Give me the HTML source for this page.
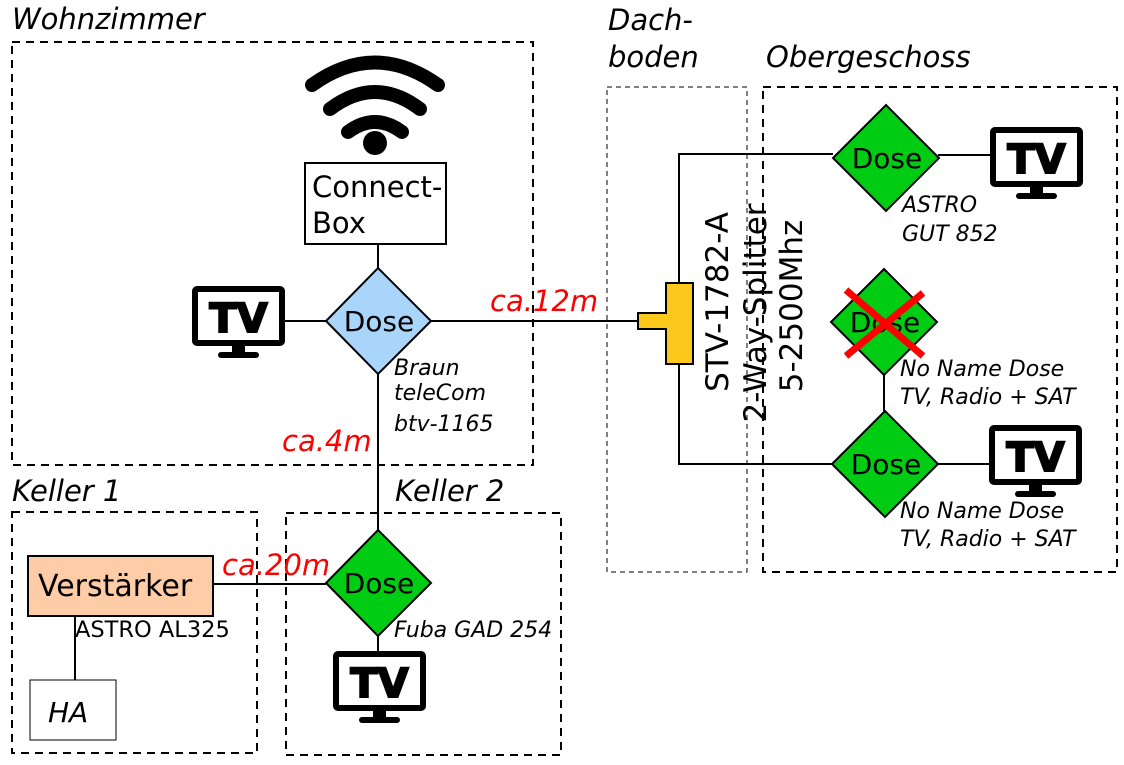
<!DOCTYPE html>
<html><head><meta charset="utf-8"><style>
html,body{margin:0;padding:0;background:#fff}
svg{display:block}
text{font-family:"DejaVu Sans","Liberation Sans",sans-serif}
</style></head><body>
<svg width="1124" height="765" viewBox="0 0 1124 765" xmlns="http://www.w3.org/2000/svg">
<defs>
<g id="tv">
<rect x="3" y="3" width="87" height="54" fill="#fff" stroke="#000" stroke-width="6" rx="2"/>
<text x="46.5" y="46" text-anchor="middle" font-size="40" font-weight="bold" stroke="#000" stroke-width="2">TV</text>
<rect x="40" y="59" width="13" height="8" fill="#000"/>
<rect x="26" y="66" width="41" height="6" rx="3" fill="#000"/>
</g>
</defs>
<g fill="none" stroke="#000" stroke-width="2" stroke-dasharray="8,6">
<rect x="12" y="42" width="521" height="423"/>
<rect x="12" y="512" width="245" height="241"/>
<rect x="286" y="513" width="275" height="242"/>
<rect x="763" y="87" width="354" height="485"/>
</g>
<rect x="607" y="87" width="140" height="485" fill="none" stroke="#000" stroke-width="1" stroke-dasharray="5,4"/>
<g font-size="29" font-style="italic">
<text x="12" y="29">Wohnzimmer</text>
<text x="12" y="501">Keller 1</text>
<text x="395" y="501">Keller 2</text>
<text x="608" y="30">Dach-</text>
<text x="608" y="67">boden</text>
<text x="766" y="67">Obergeschoss</text>
</g>
<g fill="none" stroke="#000" stroke-width="14" stroke-linecap="round">
<path d="M312 85 Q375 40 438 85"/>
<path d="M330 109 Q375 75 420 109"/>
<path d="M348 132 Q375 112 402 132"/>
</g>
<circle cx="375" cy="143" r="12" fill="#000"/>
<g stroke="#000" stroke-width="2" fill="none">
<line x1="378" y1="244" x2="378" y2="268"/>
<line x1="285" y1="321" x2="326" y2="321"/>
<line x1="430" y1="321" x2="640" y2="321"/>
<line x1="378" y1="374" x2="378" y2="530"/>
<line x1="378" y1="636" x2="378" y2="652"/>
<line x1="213" y1="584" x2="326" y2="584"/>
<line x1="75" y1="616" x2="75" y2="680"/>
<polyline points="679,283 679,154 833,154"/>
<polyline points="679,364 679,464 833,464"/>
<line x1="938" y1="155" x2="990" y2="155"/>
<line x1="937" y1="464" x2="989" y2="464"/>
<line x1="884" y1="374" x2="884" y2="411"/>
</g>
<rect x="305" y="163" width="141" height="81" fill="#fff" stroke="#000" stroke-width="2"/>
<text x="312" y="197" font-size="29">Connect-</text>
<text x="312" y="233" font-size="29">Box</text>
<g stroke="#000" stroke-width="2">
<polygon points="378,268 431,321 378,374 326,321" fill="#aad5fb"/>
<polygon points="378,530 431,583 378,636 326,583" fill="#00cc14"/>
<polygon points="886,105 939,158 886,211 833,158" fill="#00cc14"/>
<polygon points="884,269 937,322 884,375 831,322" fill="#00cc14"/>
<polygon points="885,411 938,464 885,517 832,464" fill="#00cc14"/>
</g>
<g font-size="28" text-anchor="middle">
<text x="379" y="331">Dose</text>
<text x="379" y="593">Dose</text>
<text x="887" y="168">Dose</text>
<text x="885" y="332">Dose</text>
<text x="886" y="474">Dose</text>
</g>
<g stroke="#f00" stroke-width="7">
<line x1="846" y1="290" x2="923" y2="356"/>
<line x1="846" y1="356" x2="923" y2="293"/>
</g>
<path d="M638 313 H666 V283 H693 V364 H666 V329 H638 Z" fill="#fcc81c" stroke="#000" stroke-width="2"/>
<g font-size="31" text-anchor="middle">
<text transform="translate(728,302) rotate(-90)">STV-1782-A</text>
<text transform="translate(766,313) rotate(-90)">2-Way-Splitter</text>
<text transform="translate(802,306) rotate(-90)">5-2500Mhz</text>
</g>
<use href="#tv" x="192" y="286"/>
<use href="#tv" x="333" y="651"/>
<use href="#tv" x="990" y="127"/>
<use href="#tv" x="989" y="425"/>
<g fill="#f00" font-size="29" font-style="italic">
<text x="490" y="311">ca.12m</text>
<text x="282" y="451">ca.4m</text>
<text x="222" y="575">ca.20m</text>
</g>
<g font-size="22" font-style="italic">
<text x="394" y="375">Braun</text>
<text x="394" y="400">teleCom</text>
<text x="394" y="431">btv-1165</text>
<text x="394" y="637">Fuba GAD 254</text>
<text x="902" y="212">ASTRO</text>
<text x="902" y="241">GUT 852</text>
<text x="900" y="376">No Name Dose</text>
<text x="900" y="404">TV, Radio + SAT</text>
<text x="900" y="518">No Name Dose</text>
<text x="900" y="546">TV, Radio + SAT</text>
</g>
<rect x="28" y="556" width="185" height="60" fill="#ffcca8" stroke="#000" stroke-width="2"/>
<text x="38" y="596" font-size="30">Verstärker</text>
<text x="75" y="637" font-size="22.5">ASTRO AL325</text>
<rect x="30" y="680" width="86" height="60" fill="#fff" stroke="#000" stroke-width="1"/>
<text x="48" y="722" font-size="28" font-style="italic">HA</text>
</svg>
</body></html>
